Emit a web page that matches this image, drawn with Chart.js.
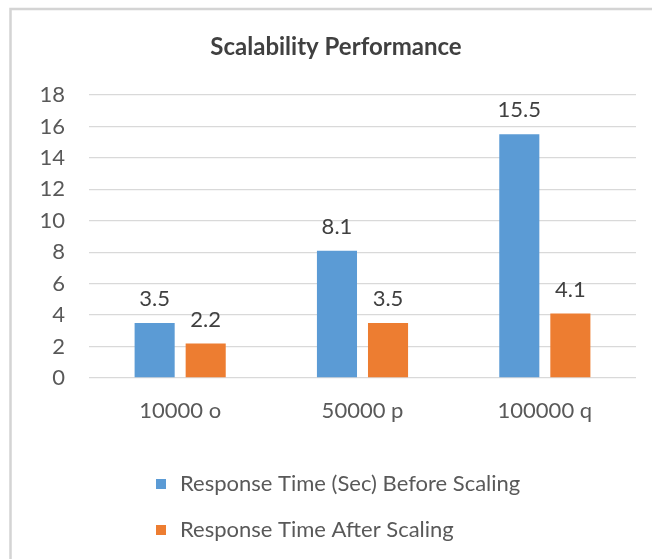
<!DOCTYPE html>
<html>
<head>
<meta charset="utf-8">
<script src="https://cdn.jsdelivr.net/npm/chart.js@4.4.1/dist/chart.umd.min.js"></script>
<style>
  html, body { margin: 0; padding: 0; background: #ffffff; }
  #wrap { position: relative; width: 652px; height: 559px; }
</style>
</head>
<body>
<div id="wrap"><canvas id="c" width="652" height="559"></canvas></div>
<script>
const categories = ["10000 o", "50000 p", "100000 q"];
const seriesNames = ["Response Time (Sec) Before Scaling", "Response Time After Scaling"];
const beforeScaling = [3.5, 8.1, 15.5];
const afterScaling = [2.2, 3.5, 4.1];
const yTicks = [0, 2, 4, 6, 8, 10, 12, 14, 16, 18];
const chartTitle = "Scalability Performance";

const FONT = "Lato, 'Open Sans', sans-serif";

const framePlugin = {
  id: 'frame',
  beforeDraw(chart) {
    const ctx = chart.ctx;
    ctx.save();
    ctx.strokeStyle = '#d4d4d4';
    ctx.lineWidth = 2.5;
    ctx.strokeRect(10.5, 9, 700, 600);
    ctx.restore();
  }
};

const titlePlugin = {
  id: 'customTitle',
  afterDraw(chart) {
    const ctx = chart.ctx;
    ctx.save();
    ctx.font = "bold 24px " + FONT;
    ctx.fillStyle = '#404040';
    ctx.textAlign = 'center';
    ctx.textBaseline = 'middle';
    ctx.fillText(chartTitle, 336, 47);
    ctx.restore();
  }
};

const valueLabels = {
  id: 'valueLabels',
  afterDatasetsDraw(chart) {
    const ctx = chart.ctx;
    ctx.save();
    ctx.font = "22px " + FONT;
    ctx.fillStyle = '#404040';
    ctx.textAlign = 'center';
    ctx.textBaseline = 'middle';
    chart.data.datasets.forEach((ds, i) => {
      const meta = chart.getDatasetMeta(i);
      meta.data.forEach((bar, j) => {
        ctx.fillText(String(ds.data[j]), bar.x, bar.y - 24);
      });
    });
    ctx.restore();
  }
};

const customLegend = {
  id: 'customLegend',
  afterDraw(chart) {
    const ctx = chart.ctx;
    ctx.save();
    ctx.font = "22px " + FONT;
    ctx.textAlign = 'left';
    ctx.textBaseline = 'middle';
    const rows = [484, 530];
    chart.data.datasets.forEach((ds, i) => {
      const y = rows[i];
      ctx.fillStyle = ds.backgroundColor;
      ctx.fillRect(156, y - 5, 10, 10);
      ctx.fillStyle = '#595959';
      ctx.fillText(ds.label, 180, y);
    });
    ctx.restore();
  }
};

new Chart(document.getElementById('c'), {
  type: 'bar',
  data: {
    labels: categories,
    datasets: [
      { label: seriesNames[0], data: beforeScaling, backgroundColor: '#5B9BD5',
        categoryPercentage: 0.56, barPercentage: 0.785 },
      { label: seriesNames[1], data: afterScaling, backgroundColor: '#ED7D31',
        categoryPercentage: 0.56, barPercentage: 0.785 }
    ]
  },
  options: {
    responsive: false,
    animation: false,
    layout: { padding: { top: 95, bottom: 131, left: 0, right: 16 } },
    plugins: {
      legend: { display: false },
      title: { display: false },
      tooltip: { enabled: false }
    },
    scales: {
      x: {
        grid: { display: false, drawTicks: false },
        border: { display: false },
        ticks: { font: { family: FONT, size: 22 }, color: '#595959', padding: 20 },
        afterFit(s) { s.height = 50; }
      },
      y: {
        min: 0, max: 18,
        afterBuildTicks(s) { s.ticks = yTicks.map(v => ({ value: v })); },
        grid: { color: '#d9d9d9', lineWidth: 1.3, drawTicks: false },
        border: { display: false },
        ticks: { font: { family: FONT, size: 22 }, color: '#595959', padding: 24 },
        afterFit(s) { s.width = 89; }
      }
    }
  },
  plugins: [framePlugin, titlePlugin, valueLabels, customLegend]
});
</script>
</body>
</html>
